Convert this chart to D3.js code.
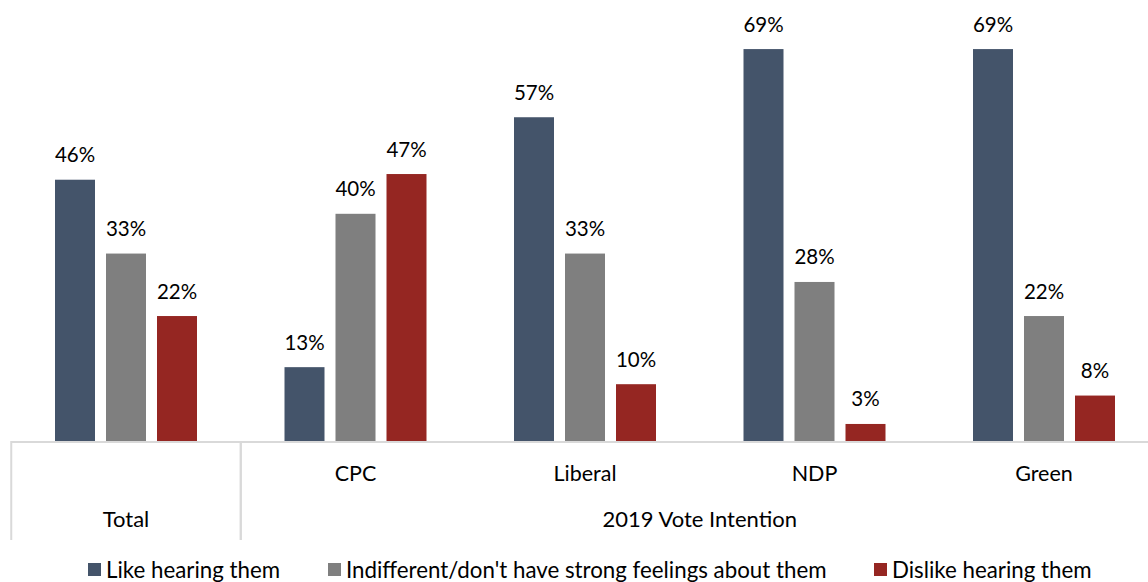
<!DOCTYPE html>
<html><head><meta charset="utf-8">
<script src="https://cdn.jsdelivr.net/npm/d3@7"></script>
<style>body{margin:0;background:#fff}svg{display:block}text{font-family:Lato,"Open Sans",sans-serif;fill:#000}</style>
</head><body><svg id="c" width="1148" height="582"></svg>
<script>
const categories = ["Total", "CPC", "Liberal", "NDP", "Green"];
const groupLabels = [{name: "Total", from: 0, to: 1}, {name: "2019 Vote Intention", from: 1, to: 5}];
const seriesNames = ["Like hearing them", "Indifferent/don't have strong feelings about them", "Dislike hearing them"];
const likeVals = [46, 13, 57, 69, 69];
const indiffVals = [33, 40, 33, 28, 22];
const dislikeVals = [22, 47, 10, 3, 8];
const colors = ["#44546a", "#7f7f7f", "#952622"];

const series = [likeVals, indiffVals, dislikeVals];
const svg = d3.select("#c");
const x0 = 11.25, x1 = 1158.75, baseY = 441;
const x = d3.scaleBand().domain(categories).range([x0, x1]);
const xi = d3.scaleBand().domain(seriesNames).range([0, 153]).paddingInner(11/51).paddingOuter(5.5/51);
const y = d3.scaleLinear().domain([0, 70]).range([baseY, baseY - 70 * 5.68]);

categories.forEach((c, ci) => {
  const g = svg.append("g").attr("transform", `translate(${x(c) + x.bandwidth()/2 - 76.5},0)`);
  seriesNames.forEach((s, si) => {
    const v = series[si][ci];
    g.append("rect").attr("x", xi(s)).attr("width", xi.bandwidth())
      .attr("y", y(v)).attr("height", baseY - y(v)).attr("fill", colors[si]);
    g.append("text").attr("x", xi(s) + xi.bandwidth()/2).attr("y", y(v) - 17.5)
      .attr("text-anchor", "middle").attr("font-size", 20.5).text(v + "%");
  });
  if (ci > 0) {
    svg.append("text").attr("x", x(c) + x.bandwidth()/2).attr("y", 480.5)
      .attr("text-anchor", "middle").attr("font-size", 21.5).text(c);
  }
});

// axis line and group separators
svg.append("line").attr("x1", x0).attr("x2", x1).attr("y1", baseY + 1).attr("y2", baseY + 1)
  .attr("stroke", "#d9d9d9").attr("stroke-width", 2);
groupLabels.forEach(gl => {
  const a = x(categories[gl.from]);
  const b = gl.to < categories.length ? x(categories[gl.to]) : x1;
  [a, b].forEach(px => svg.append("line").attr("x1", px).attr("x2", px).attr("y1", baseY).attr("y2", 540)
    .attr("stroke", "#d9d9d9").attr("stroke-width", 2));
  svg.append("text").attr("x", (a + b) / 2).attr("y", 526.5).attr("text-anchor", "middle")
    .attr("font-size", 22).text(gl.name);
});

// legend
const legX = [88, 328, 874];
seriesNames.forEach((s, i) => {
  svg.append("rect").attr("x", legX[i]).attr("y", 563).attr("width", 13).attr("height", 13).attr("fill", colors[i]);
  svg.append("text").attr("x", legX[i] + 18).attr("y", 578).attr("font-size", 22.3).text(s);
});
</script></body></html>
